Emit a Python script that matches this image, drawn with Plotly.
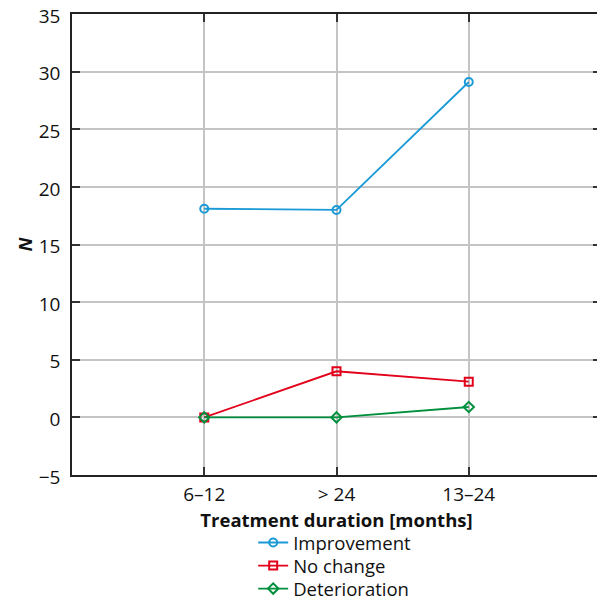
import plotly.graph_objects as go

categories = ["6–12", "> 24", "13–24"]
improvement = [18.1, 18.0, 29.1]
no_change = [0.0, 4.0, 3.1]
deterioration = [0.0, 0.0, 0.9]

series = [
    ("Improvement", improvement, "#1a9ad6", "circle-open"),
    ("No change", no_change, "#e2001a", "square-open"),
    ("Deterioration", deterioration, "#00903d", "diamond-open"),
]

FONT = "Open Sans"
fig = go.Figure()
legend_ids = ["legend", "legend2", "legend3"]
for (name, vals, color, sym), lg in zip(series, legend_ids):
    fig.add_trace(go.Scatter(
        x=categories, y=vals, name=name, mode="lines+markers",
        line=dict(color=color, width=1.8),
        marker=dict(symbol=sym, size=8, color=color, line=dict(width=2, color=color)),
        legend=lg,
    ))

axis_common = dict(
    showline=True, linecolor="#222", linewidth=1.5, mirror="ticks",
    ticks="inside", ticklen=8, tickwidth=2, tickcolor="#333",
    showgrid=True, gridcolor="#c4c4c4", gridwidth=1.5, zeroline=False,
    tickfont=dict(family=FONT, size=19, color="#111"),
    automargin=False, ticklabeloverflow="allow",
)

legend_common = dict(
    orientation="v", xanchor="left", yanchor="middle", x=0.3425,
    font=dict(family=FONT, size=18.5), itemwidth=30,
    bgcolor="rgba(0,0,0,0)",
)

fig.update_layout(
    width=597, height=595,
    margin=dict(l=64, r=4, t=6, b=128, autoexpand=False),
    paper_bgcolor="white", plot_bgcolor="white",
    font=dict(family=FONT, color="#111"),
    xaxis=dict(
        **axis_common, type="category", range=[-1, 3], ticklabelstandoff=1,
        title=dict(text="<b>Treatment duration [months]</b>", font=dict(family=FONT, size=18.5), standoff=0),
    ),
    yaxis=dict(
        **axis_common, range=[-5, 35], dtick=5, ticklabelstandoff=6, ticklabelshift=2,
        title=dict(text="<b><i>N</i></b>", font=dict(family=FONT, size=18.5), standoff=1),
    ),
    showlegend=True,
    legend=dict(**legend_common, y=-0.1475),
    legend2=dict(**legend_common, y=-0.1974),
    legend3=dict(**legend_common, y=-0.2473),
)

fig.write_html("out.html")
